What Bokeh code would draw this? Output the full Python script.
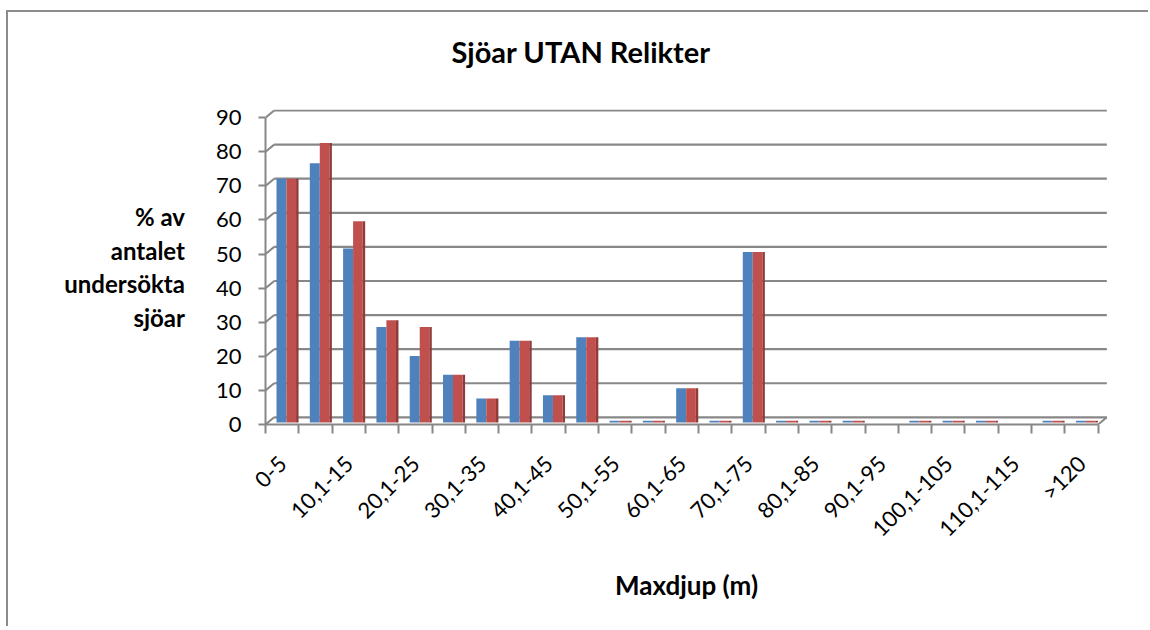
import math
from bokeh.plotting import figure
from bokeh.models import FixedTicker, Range1d, ColumnDataSource, Title
from bokeh.embed import file_html
from bokeh.resources import INLINE

# ---- data ----
categories = ["0-5", "5,1-10", "10,1-15", "15,1-20", "20,1-25", "25,1-30",
              "30,1-35", "35,1-40", "40,1-45", "45,1-50", "50,1-55", "55,1-60",
              "60,1-65", "65,1-70", "70,1-75", "75,1-80", "80,1-85", "85,1-90",
              "90,1-95", "95,1-100", "100,1-105", "105,1-110", "110,1-115",
              "115,1-120", ">120"]
NA = float("nan")
series_blue = [71.5, 76, 51, 28, 19.5, 14, 7, 24, 8, 25, 0, 0, 10, 0, 50,
               0, 0, 0, NA, 0, 0, 0, NA, 0, 0]
series_red = [71.5, 82, 59, 30, 28, 14, 7, 24, 8, 25, 0, 0, 10, 0, 50,
              0, 0, 0, NA, 0, 0, 0, NA, 0, 0]
y_ticks = [0, 10, 20, 30, 40, 50, 60, 70, 80, 90]

title_text = "Sjöar UTAN Relikter"
y_label = "% av\nantalet\nundersökta\nsjöar"
x_label = "Maxdjup (m)"

# ---- style ----
FONT = "Lato"
GRID = "#878787"
BLUE = "#4F81BD"
RED = "#C0504D"
RED_SIDE = "#8E3B39"
DEPTH_X = 0.26      # back wall offset (category units)
DEPTH_Y = 2.1       # back wall offset (value units)
BAR_BASE = 0.6      # bars sit at mid depth
MIN_SLIVER = 0.5

n = len(categories)
x_end = n + DEPTH_X + 0.02

p = figure(width=1142, height=616, output_backend="svg", toolbar_location=None,
           x_range=Range1d(0, x_end), y_range=Range1d(0, 92.4),
           min_border_left=257, min_border_right=43,
           min_border_top=97, min_border_bottom=204)
p.title = None
p.xgrid.visible = False
p.ygrid.visible = False
p.outline_line_color = None
p.background_fill_color = "white"
p.border_fill_color = "white"
# chart-area frame: only its left and top edges fall inside the picture
p.styles = {"transform": "translate(8px, 12px)",
            "box-shadow": "-2px -2px 0px 0px #8c8c8c"}

# title: an empty spacer next to the frame, the real title above it
p.add_layout(Title(text=" ", text_font_size="10px", standoff=28), "above")
p.add_layout(Title(text=title_text, align="left", offset=186,
                   text_font=FONT, text_font_size="29px",
                   text_font_style="bold", text_color="#000000",
                   standoff=0), "above")

# back wall grid lines + left wall connectors + floor
p.segment(x0=[DEPTH_X] * len(y_ticks), y0=[t + DEPTH_Y for t in y_ticks],
          x1=[n + DEPTH_X] * len(y_ticks), y1=[t + DEPTH_Y for t in y_ticks],
          line_color=GRID, line_width=2.2)
p.segment(x0=[0] * len(y_ticks), y0=y_ticks,
          x1=[DEPTH_X] * len(y_ticks), y1=[t + DEPTH_Y for t in y_ticks],
          line_color=GRID, line_width=2)
p.segment(x0=[n], y0=[0], x1=[n + DEPTH_X], y1=[DEPTH_Y],
          line_color=GRID, line_width=2)

# bars
def tops(vals):
    return [NA if math.isnan(v) else BAR_BASE + max(v, MIN_SLIVER) for v in vals]

src = ColumnDataSource(dict(
    xb=[i + 0.48 for i in range(n)],
    xr=[i + 0.775 for i in range(n)],
    xs=[i + 0.955 for i in range(n)],
    tb=tops(series_blue),
    tr=tops(series_red),
    bottom=[BAR_BASE] * n,
))
p.vbar(x="xs", width=0.075, top="tr", bottom="bottom", source=src,
       fill_color=RED_SIDE, line_color=None)
p.vbar(x="xb", width=0.30, top="tb", bottom="bottom", source=src,
       fill_color=BLUE, line_color=None)
p.vbar(x="xr", width=0.29, top="tr", bottom="bottom", source=src,
       fill_color=RED, line_color=None)

# y axis (front)
ya = p.yaxis[0]
ya.ticker = FixedTicker(ticks=y_ticks)
ya.bounds = (0, 90)
ya.axis_line_color = GRID
ya.axis_line_width = 2
ya.major_tick_line_color = GRID
ya.major_tick_line_width = 2
ya.major_tick_out = 7
ya.major_tick_in = 0
ya.minor_tick_line_color = None
ya.major_label_text_font = FONT
ya.major_label_text_font_size = "22px"
ya.major_label_text_color = "#000000"
ya.major_label_standoff = 17
ya.axis_label = y_label
ya.axis_label_orientation = "horizontal"
ya.axis_label_text_align = "center"
ya.axis_label_text_font = FONT
ya.axis_label_text_font_size = "24px"
ya.axis_label_text_font_style = "bold"
ya.axis_label_text_color = "#000000"
ya.axis_label_text_line_height = 1.15
ya.axis_label_standoff = 28

# x axis (front floor edge)
label_pos = [i + 0.5 for i in range(0, n, 2)]
xa = p.xaxis[0]
xa.ticker = FixedTicker(ticks=label_pos, minor_ticks=list(range(n + 1)))
xa.major_label_overrides = {i + 0.5: categories[i] for i in range(0, n, 2)}
xa.bounds = (0, n)
xa.axis_line_color = GRID
xa.axis_line_width = 2
xa.major_tick_out = 0
xa.major_tick_in = 0
xa.major_tick_line_color = None
xa.minor_tick_line_color = GRID
xa.minor_tick_line_width = 2
xa.minor_tick_out = 9
xa.minor_tick_in = 0
xa.major_label_orientation = math.pi / 4
xa.major_label_text_font = FONT
xa.major_label_text_font_size = "22px"
xa.major_label_text_color = "#000000"
xa.major_label_standoff = 26
xa.axis_label = x_label
xa.axis_label_text_font = FONT
xa.axis_label_text_font_size = "26px"
xa.axis_label_text_font_style = "bold"
xa.axis_label_text_color = "#000000"
xa.axis_label_standoff = 15

open("out.html", "w").write(file_html(p, INLINE))
